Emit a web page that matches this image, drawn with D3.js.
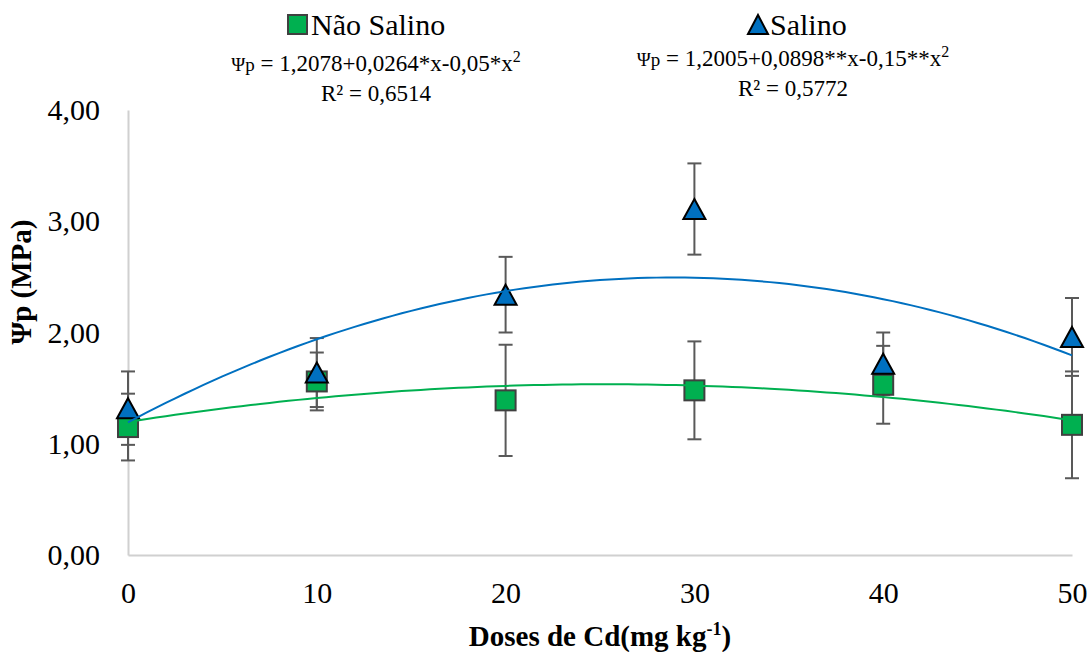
<!DOCTYPE html>
<html>
<head>
<meta charset="utf-8">
<script src="https://cdn.jsdelivr.net/npm/d3@7"></script>
<style>
  body { margin: 0; background: #fff; }
  svg text { font-family: 'Liberation Serif', 'DejaVu Serif', serif; }
</style>
</head>
<body>
<script>
// data
const doses = [0, 10, 20, 30, 40, 50];
const naoSalino = [1.15, 1.56, 1.39, 1.48, 1.53, 1.17];
const naoSalinoErr = [0.30, 0.26, 0.50, 0.44, 0.35, 0.48];
const salino = [1.32, 1.64, 2.34, 3.11, 1.72, 1.96];
const salinoErr = [0.33, 0.31, 0.34, 0.41, 0.28, 0.35];
const yTicks = [0, 1, 2, 3, 4];
const xTicks = [0, 10, 20, 30, 40, 50];

const width = 1089;
const height = 652;
const green = '#00b050';
const blue = '#0070c0';
const serif = "'Liberation Serif', 'DejaVu Serif', serif";

const svg = d3
  .select('body')
  .append('svg')
  .attr('width', width)
  .attr('height', height)
  .attr('font-family', serif);

const x = d3.scaleLinear().domain([0, 50]).range([128, 1072]);
const y = d3.scaleLinear().domain([0, 4]).range([555, 110]);

const fmt = (d) => d3.format('.2f')(d).replace('.', ',');

// axes
const yAxis = svg
  .append('g')
  .attr('transform', 'translate(128,0)')
  .call(d3.axisLeft(y).tickValues(yTicks).tickSize(0).tickPadding(28).tickFormat(fmt));

const xAxis = svg
  .append('g')
  .attr('transform', 'translate(0,555)')
  .call(d3.axisBottom(x).tickValues(xTicks).tickSize(0).tickSizeOuter(0).tickPadding(27));

[yAxis, xAxis].forEach((g) => {
  g.attr('font-family', serif).attr('font-size', 30);
  g.select('.domain').attr('stroke', '#d0d0d0').attr('stroke-width', 2);
  g.selectAll('text').attr('fill', '#000');
});

// quadratic least squares fit, used for the trendlines
function polyfit2(xs, ys) {
  const s = [0, 0, 0, 0, 0];
  const t = [0, 0, 0];
  xs.forEach((xi, i) => {
    for (let k = 0; k < 5; k++) s[k] += Math.pow(xi, k);
    for (let k = 0; k < 3; k++) t[k] += ys[i] * Math.pow(xi, k);
  });
  const m = [
    [s[0], s[1], s[2], t[0]],
    [s[1], s[2], s[3], t[1]],
    [s[2], s[3], s[4], t[2]],
  ];
  for (let i = 0; i < 3; i++) {
    for (let j = i + 1; j < 3; j++) {
      const f = m[j][i] / m[i][i];
      for (let k = i; k < 4; k++) m[j][k] -= f * m[i][k];
    }
  }
  const c = [0, 0, 0];
  for (let i = 2; i >= 0; i--) {
    let v = m[i][3];
    for (let k = i + 1; k < 3; k++) v -= m[i][k] * c[k];
    c[i] = v / m[i][i];
  }
  return (v) => c[0] + c[1] * v + c[2] * v * v;
}

const series = [
  { name: 'nao', values: naoSalino, err: naoSalinoErr, color: green },
  { name: 'sal', values: salino, err: salinoErr, color: blue },
];

// error bars
series.forEach((s) => {
  const g = svg.append('g').attr('stroke', '#595959').attr('stroke-width', 2);
  doses.forEach((d, i) => {
    const lo = y(s.values[i] - s.err[i]);
    const hi = y(s.values[i] + s.err[i]);
    g.append('line').attr('x1', x(d)).attr('x2', x(d)).attr('y1', lo).attr('y2', hi);
    g.append('line').attr('x1', x(d) - 7).attr('x2', x(d) + 7).attr('y1', lo).attr('y2', lo);
    g.append('line').attr('x1', x(d) - 7).attr('x2', x(d) + 7).attr('y1', hi).attr('y2', hi);
  });
});

// markers
svg
  .selectAll('.sq')
  .data(doses)
  .enter()
  .append('rect')
  .attr('class', 'sq')
  .attr('x', (d) => x(d) - 10)
  .attr('y', (d, i) => y(naoSalino[i]) - 10)
  .attr('width', 20)
  .attr('height', 20)
  .attr('fill', green)
  .attr('stroke', '#404040')
  .attr('stroke-width', 2);

function triangle(cx, cy) {
  return `M${cx},${cy - 10}L${cx + 11},${cy + 10}L${cx - 11},${cy + 10}Z`;
}

svg
  .selectAll('.tri')
  .data(doses)
  .enter()
  .append('path')
  .attr('class', 'tri')
  .attr('d', (d, i) => triangle(x(d), y(salino[i])))
  .attr('fill', blue)
  .attr('stroke', '#000')
  .attr('stroke-width', 2);

// trendlines
const line = d3
  .line()
  .x((p) => x(p[0]))
  .y((p) => y(p[1]));

series.forEach((s) => {
  const f = polyfit2(doses, s.values);
  const pts = d3.range(0, 50.25, 0.5).map((v) => [v, f(v)]);
  svg
    .append('path')
    .attr('d', line(pts))
    .attr('fill', 'none')
    .attr('stroke', s.color)
    .attr('stroke-width', 2);
});

// legend
svg
  .append('rect')
  .attr('x', 288)
  .attr('y', 15)
  .attr('width', 19)
  .attr('height', 19)
  .attr('fill', green)
  .attr('stroke', '#404040')
  .attr('stroke-width', 2);
svg.append('text').attr('x', 311).attr('y', 35).attr('font-size', 30).text('Não Salino');

svg
  .append('path')
  .attr('d', 'M758,15L768,34L748,34Z')
  .attr('fill', blue)
  .attr('stroke', '#000')
  .attr('stroke-width', 2);
svg.append('text').attr('x', 770).attr('y', 35).attr('font-size', 30).text('Salino');

// equations
function equation(cx, by, a, b, c) {
  const t = svg.append('text').attr('x', cx).attr('y', by).attr('font-size', 23).attr('text-anchor', 'middle');
  t.append('tspan').attr('font-size', 19).text('Ψp');
  t.append('tspan').text(`  = ${a}+${b}x-${c}x`);
  t.append('tspan').attr('font-size', 16).attr('dy', -9).text('2');
}
equation(376, 71, '1,2078', '0,0264*', '0,05*');
svg.append('text').attr('x', 376).attr('y', 101).attr('font-size', 23).attr('text-anchor', 'middle').text('R² = 0,6514');
equation(793, 66, '1,2005', '0,0898**', '0,15**');
svg.append('text').attr('x', 793).attr('y', 96).attr('font-size', 23).attr('text-anchor', 'middle').text('R² = 0,5772');

// axis titles
const xt = svg
  .append('text')
  .attr('x', 600)
  .attr('y', 646)
  .attr('font-size', 29)
  .attr('font-weight', 'bold')
  .attr('text-anchor', 'middle');
xt.append('tspan').text('Doses de Cd(mg kg');
xt.append('tspan').attr('font-size', 18).attr('dy', -11).text('-1');
xt.append('tspan').attr('dy', 11).text(')');

svg
  .append('text')
  .attr('transform', 'translate(31,282) rotate(-90)')
  .attr('font-size', 29)
  .attr('font-weight', 'bold')
  .attr('text-anchor', 'middle')
  .text('Ψp (MPa)');
</script>
</body>
</html>
